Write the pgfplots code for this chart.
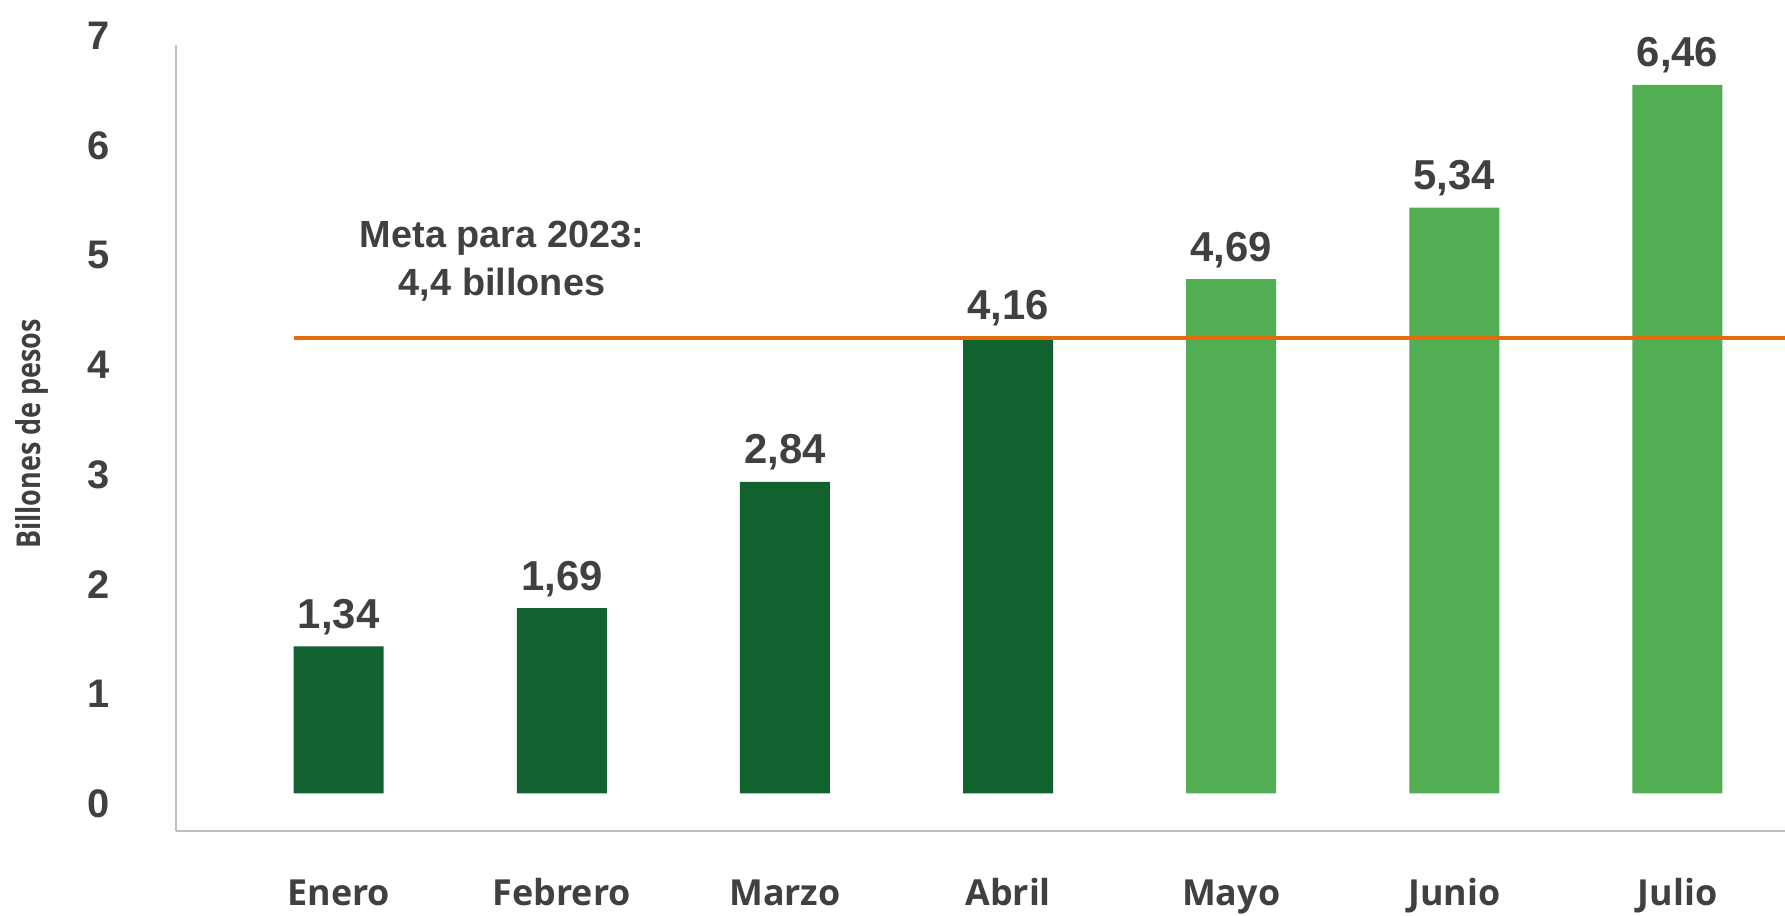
\documentclass[border=0pt]{standalone}
\usepackage{pgfplots}
\pgfplotsset{compat=1.18}
\usepackage{fontspec}
\setmainfont{Liberation Sans}
\newfontfamily\monthfont{Open Sans}
\newfontfamily\condfont[FakeStretch=0.82]{Open Sans}
\definecolor{dkgreen}{RGB}{17,98,47}
\definecolor{ltgreen}{RGB}{82,174,83}
\definecolor{meta}{RGB}{227,108,10}
\definecolor{txt}{RGB}{64,64,64}
\definecolor{axgray}{RGB}{191,191,191}
\begin{document}
\begin{tikzpicture}
\useasboundingbox (-88.25bp,-42.5bp) rectangle (804.25bp,415.5bp);
\begin{axis}[
  scale only axis, width=804.25bp, height=402.7bp,
  xmin=-0.727, xmax=6.482, ymin=-0.342, ymax=7,
  axis x line=bottom, axis y line=left,
  x axis line style={-, draw=axgray, line width=1bp},
  y axis line style={draw=none},
  major tick length=0pt,
  xtick={0,...,6},
  xticklabels={Enero,Febrero,Marzo,Abril,Mayo,Junio,Julio},
  ytick={0,...,7},
  /pgf/number format/assume math mode=true,
  yticklabel style={font=\fontsize{20}{20}\selectfont\bfseries, text=txt, anchor=center, xshift=-39bp, yshift=-5bp},
  xticklabel style={font=\monthfont\fontsize{18}{18}\selectfont\bfseries, text=txt, anchor=base, yshift=-37bp},
  ylabel={Billones de pesos},
  ylabel style={at={(axis description cs:-0.0896,0.493)}, anchor=center, font=\condfont\fontsize{16.5}{16.5}\selectfont\bfseries, text=txt},
  ybar, bar width=45bp, bar shift=0pt,
  clip=false,
]
\addplot[fill=dkgreen, draw=none,
  nodes near coords={\pgfmathprintnumber[use comma,fixed,fixed zerofill,precision=2]{\pgfplotspointmeta}},
  every node near coord/.append style={font=\fontsize{21}{21}\selectfont\bfseries, text=txt, anchor=base, inner sep=0pt, yshift=9bp}]
  coordinates {(0,1.34) (1,1.69) (2,2.84) (3,4.16)};
\addplot[fill=ltgreen, draw=none,
  nodes near coords={\pgfmathprintnumber[use comma,fixed,fixed zerofill,precision=2]{\pgfplotspointmeta}},
  every node near coord/.append style={font=\fontsize{21}{21}\selectfont\bfseries, text=txt, anchor=base, inner sep=0pt, yshift=9bp}]
  coordinates {(4,4.69) (5,5.34) (6,6.46)};
\addplot[sharp plot, draw=meta, line width=2bp, mark=none, forget plot]
  coordinates {(-0.2017,4.15) (6.482,4.15)};
\draw[axgray, line width=1bp] (axis cs:-0.727,-0.342) -- (axis cs:-0.727,6.82);
\node[font=\fontsize{19}{24}\selectfont\bfseries, text=txt, align=center] at (axis cs:0.732,4.854) {Meta para 2023:\\4,4 billones};
\end{axis}
\end{tikzpicture}
\end{document}
